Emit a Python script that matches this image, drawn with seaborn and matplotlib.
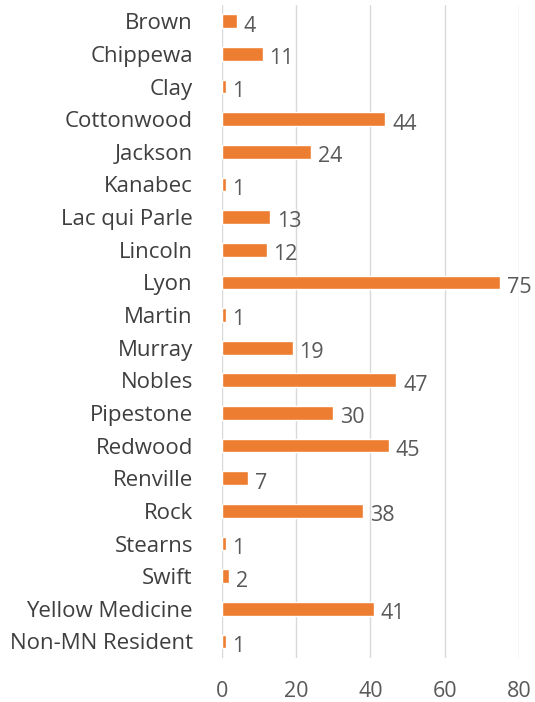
import matplotlib
matplotlib.use("Agg")
import matplotlib.pyplot as plt
import seaborn as sns
import pandas as pd

counties = ["Brown", "Chippewa", "Clay", "Cottonwood", "Jackson", "Kanabec",
            "Lac qui Parle", "Lincoln", "Lyon", "Martin", "Murray", "Nobles",
            "Pipestone", "Redwood", "Renville", "Rock", "Stearns", "Swift",
            "Yellow Medicine", "Non-MN Resident"]
cases = [4, 11, 1, 44, 24, 1, 13, 12, 75, 1, 19, 47, 30, 45, 7, 38, 1, 2, 41, 1]
xticks = [0, 20, 40, 60, 80]

df = pd.DataFrame({"county": counties, "cases": cases})

sns.set_style("white")
plt.rcParams["font.family"] = ["Open Sans", "DejaVu Sans"]

fig = plt.figure(figsize=(5.35, 7.02), dpi=100)
ax = fig.add_axes([0.415, 0.063, 0.555, 0.930])

sns.barplot(ax=ax, data=df, x="cases", y="county", color="#ED7D31",
            saturation=1, width=0.42, orient="h")

for i, v in enumerate(cases):
    ax.text(v + 1.8, i + 0.15, str(v), va="center", ha="left",
            fontsize=15.5, color="#595959")

ax.set_xlim(0, 80)
ax.set_ylim(19.5, -0.5)
ax.set_xticks(xticks)
ax.grid(axis="x", color="#D9D9D9", linewidth=1)
ax.set_axisbelow(True)
for s in ax.spines.values():
    s.set_visible(False)
ax.set_xlabel("")
ax.set_ylabel("")
ax.tick_params(axis="both", length=0, labelsize=16, colors="#3F3F3F")
ax.tick_params(axis="x", pad=17, labelsize=15.5, colors="#595959")
ax.tick_params(axis="y", pad=21)

fig.savefig("out.png", dpi=100)
